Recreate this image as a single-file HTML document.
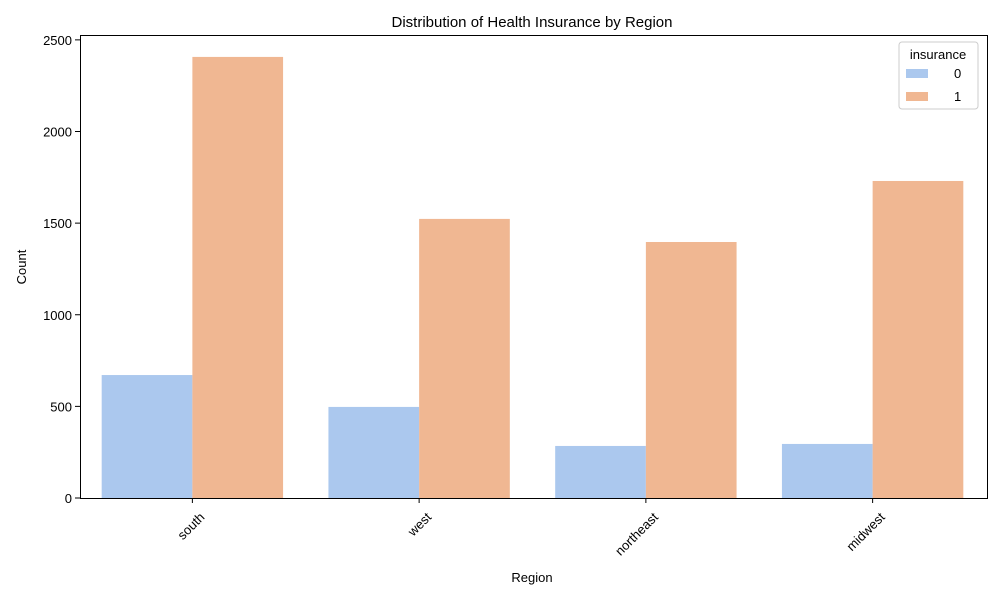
<!DOCTYPE html>
<html><head><meta charset="utf-8"><style>
body{margin:0;background:#fff;}
text{font-family:"Liberation Sans","DejaVu Sans",sans-serif;fill:#000;}
</style></head><body>
<svg id="chart" width="1000" height="600" xmlns="http://www.w3.org/2000/svg">
<rect width="1000" height="600" fill="#fff"/>
<text x="532" y="27" font-size="15" text-anchor="middle">Distribution of Health Insurance by Region</text>
<g id="bars"></g>
<g id="axes"></g>
<text x="532" y="582" font-size="13" text-anchor="middle">Region</text>
<text transform="translate(26,267) rotate(-90)" font-size="13" text-anchor="middle">Count</text>
<g>
<rect x="899" y="42" width="79" height="67" rx="3" fill="#fff" stroke="#ccc"/>
<text x="938" y="59" font-size="13" text-anchor="middle">insurance</text>
<rect x="906" y="69" width="22" height="9" fill="#abc8ee"/>
<text x="954" y="78" font-size="13">0</text>
<rect x="906" y="92" width="22" height="9" fill="#f0b792"/>
<text x="954" y="101" font-size="13">1</text>
</g>
</svg>
<script>
const categories=["south","west","northeast","midwest"];
const series0=[671,497,284,295];
const series1=[2407,1523,1397,1730];
const yTicks=[0,500,1000,1500,2000,2500];
const L=80,R=987,T=35,B=498;
const yScale=v=>B-v*0.18325;
const band=(R-L)/categories.length;
const xCenter=i=>L+band*(i+0.5);
const NS="http://www.w3.org/2000/svg";
const bars=document.getElementById('bars'),axes=document.getElementById('axes');
function mk(tag,attrs,parent){const e=document.createElementNS(NS,tag);for(const k in attrs)e.setAttribute(k,attrs[k]);parent.appendChild(e);return e;}
const bw=band*0.4;
categories.forEach((c,i)=>{
  const x=xCenter(i)-1;
  const b0=mk('rect',{x:x-bw,y:yScale(series0[i]),width:bw,height:B-yScale(series0[i]),fill:'#abc8ee'},bars);
  
  
  const b1=mk('rect',{x:x,y:yScale(series1[i]),width:bw,height:B-yScale(series1[i]),fill:'#f0b792'},bars);
  
  
  mk('line',{x1:x,x2:x,y1:B,y2:B+5,stroke:'#000'},axes);
  const t=mk('text',{'font-size':13,'text-anchor':'end',transform:`translate(${x+13},${B+20}) rotate(-45)`},axes);
  t.textContent=c;
  
  
});
yTicks.forEach(v=>{
  const y=yScale(v);
  mk('line',{x1:L-5,x2:L,y1:y,y2:y,stroke:'#000'},axes);
  const t=mk('text',{x:L-8,y:y+5,'font-size':13,'text-anchor':'end'},axes);
  t.textContent=v;
  
  
});
const f=mk('rect',{x:L+0.5,y:T+0.5,width:R-L,height:B-T,fill:'none',stroke:'#000','stroke-width':1},axes);


</script>
</body></html>
